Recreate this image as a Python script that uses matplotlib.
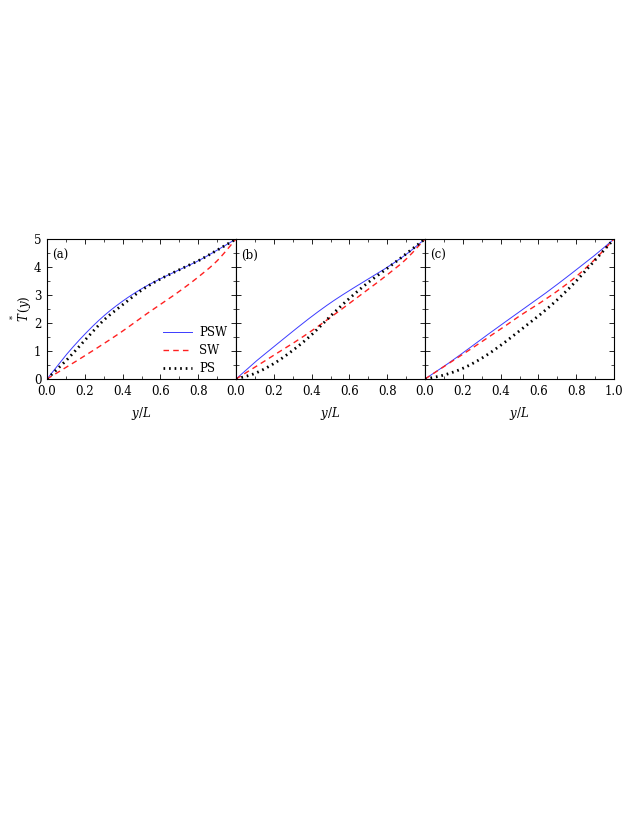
import matplotlib
matplotlib.use("Agg")
import matplotlib.pyplot as plt
from matplotlib.ticker import MultipleLocator, FixedLocator
import numpy as np

plt.rcParams['font.family'] = ['DejaVu Serif']
plt.rcParams['mathtext.fontset'] = 'dejavuserif'

x = [0.0, 0.1, 0.2, 0.3, 0.4, 0.5, 0.6, 0.7, 0.8, 0.9, 1.0]

# panel (a)
psw_a = [0.0, 0.85, 1.6, 2.25, 2.78, 3.22, 3.58, 3.9, 4.22, 4.6, 5.0]
sw_a  = [0.0, 0.41, 0.83, 1.26, 1.71, 2.2, 2.66, 3.13, 3.64, 4.22, 5.0]
ps_a  = [0.0, 0.65, 1.38, 2.1, 2.65, 3.17, 3.57, 3.9, 4.22, 4.6, 5.0]

# panel (b)
psw_b = [0.0, 0.6, 1.15, 1.7, 2.23, 2.72, 3.16, 3.57, 3.99, 4.45, 5.0]
sw_b  = [0.0, 0.42, 0.85, 1.27, 1.72, 2.2, 2.7, 3.2, 3.72, 4.28, 5.0]
ps_b  = [0.0, 0.2, 0.55, 1.02, 1.58, 2.25, 2.88, 3.45, 3.95, 4.47, 5.0]

# panel (c)
psw_c = [0.0, 0.45, 0.93, 1.43, 1.92, 2.4, 2.88, 3.38, 3.9, 4.43, 5.0]
sw_c  = [0.0, 0.44, 0.88, 1.33, 1.78, 2.25, 2.68, 3.14, 3.66, 4.28, 5.0]
ps_c  = [0.0, 0.14, 0.38, 0.74, 1.2, 1.72, 2.25, 2.83, 3.5, 4.25, 5.0]

panel_labels = ['(a)', '(b)', '(c)']
series_names = ['PSW', 'SW', 'PS']
xtick_vals = [0.0, 0.2, 0.4, 0.6, 0.8, 1.0]
ytick_vals = [0, 1, 2, 3, 4, 5]

data = [(psw_a, sw_a, ps_a), (psw_b, sw_b, ps_b), (psw_c, sw_c, ps_c)]


def smooth(xp, yp, n=20):
    """Catmull-Rom curve through the read points (passes through every point)."""
    xp = np.asarray(xp, float)
    yp = np.asarray(yp, float)
    px = np.concatenate([[2 * xp[0] - xp[1]], xp, [2 * xp[-1] - xp[-2]]])
    py = np.concatenate([[2 * yp[0] - yp[1]], yp, [2 * yp[-1] - yp[-2]]])
    ox, oy = [], []
    t = np.linspace(0, 1, n, endpoint=False)
    for k in range(1, len(px) - 2):
        for arr, out in ((px, ox), (py, oy)):
            p0, p1, p2, p3 = arr[k - 1], arr[k], arr[k + 1], arr[k + 2]
            out.extend(0.5 * (2 * p1 + (-p0 + p2) * t + (2 * p0 - 5 * p1 + 4 * p2 - p3) * t ** 2
                              + (-p0 + 3 * p1 - 3 * p2 + p3) * t ** 3))
    ox.append(xp[-1])
    oy.append(yp[-1])
    return np.array(ox), np.array(oy)


W, H = 638, 825
fig = plt.figure(figsize=(W / 100, H / 100), dpi=100)

lefts = [47, 236, 425]
pw = 189
top, bottom = 239, 379

fs = 8.5
for i, (psw, sw, ps) in enumerate(data):
    ax = fig.add_axes([lefts[i] / W, 1 - bottom / H, pw / W, (bottom - top) / H])
    ax.plot(*smooth(x, psw), color='#3b3bff', lw=0.7, label=series_names[0])
    ax.plot(*smooth(x, sw), color='#ff2020', lw=1.0, ls=(0, (4, 3)), label=series_names[1])
    ax.plot(*smooth(x, ps), color='black', lw=2.0, ls=(0, (0.6, 1.4)), label=series_names[2])
    ax.set_xlim(0, 1)
    ax.set_ylim(0, 5)
    ax.xaxis.set_major_locator(FixedLocator(xtick_vals))
    ax.xaxis.set_minor_locator(MultipleLocator(0.1))
    ax.yaxis.set_major_locator(FixedLocator(ytick_vals))
    ax.yaxis.set_minor_locator(MultipleLocator(0.5))
    ax.tick_params(which='both', direction='in', top=True, right=True, labelsize=fs)
    ax.tick_params(axis='x', pad=4.5)
    ax.tick_params(axis='y', pad=4)
    ax.tick_params(which='major', length=3.5, width=0.6)
    ax.tick_params(which='minor', length=2, width=0.5)
    if i < 2:
        ax.set_xticklabels(['0.0', '0.2', '0.4', '0.6', '0.8', ''])
    else:
        ax.set_xticklabels(['0.0', '0.2', '0.4', '0.6', '0.8', '1.0'])
    if i > 0:
        ax.set_yticklabels([])
    for s in ax.spines.values():
        s.set_linewidth(0.8)
    ax.text(0.025, 0.93, panel_labels[i], transform=ax.transAxes, fontsize=fs,
            ha='left', va='top')
    ax.set_xlabel(r'$y/L$', fontsize=fs, labelpad=4.5)
    if i == 0:
        ax.set_ylabel(r'$\overset{*}{T}\,(y)$', fontsize=fs, labelpad=0)
        ax.legend(loc='lower right', frameon=False, fontsize=fs, handlelength=2.5,
                  handletextpad=0.6, labelspacing=0.42, borderaxespad=0.0,
                  bbox_to_anchor=(0.98, -0.005))

fig.savefig('out.png', dpi=100)
